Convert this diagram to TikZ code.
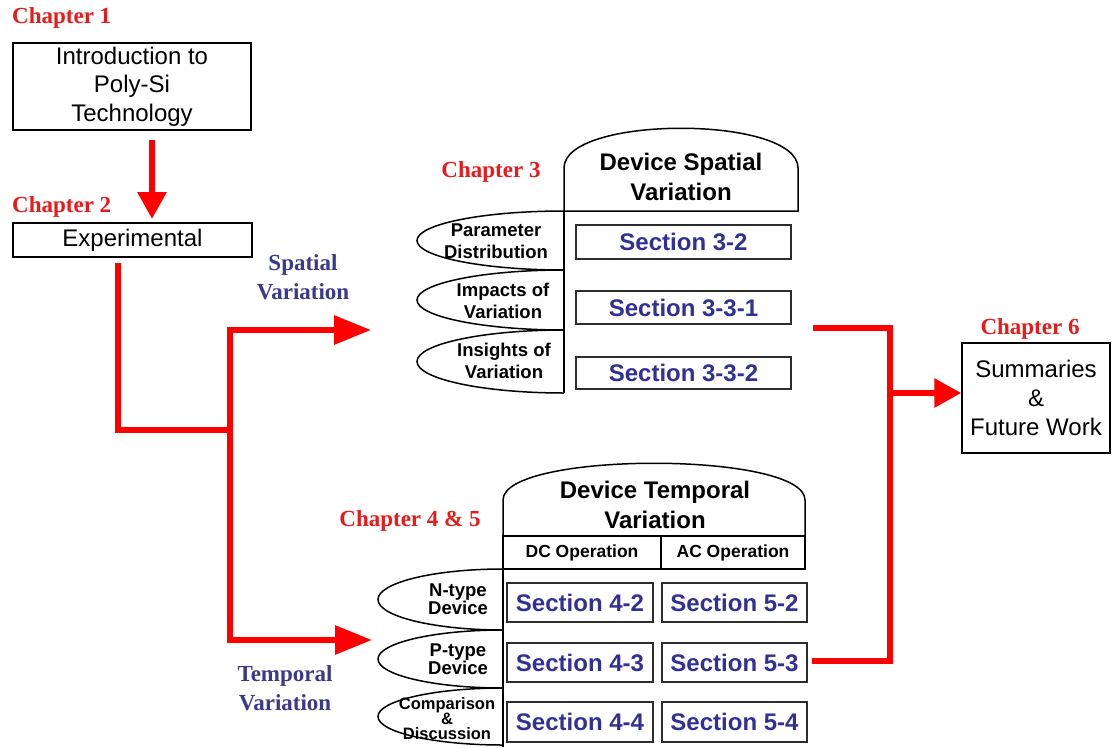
\documentclass[tikz,border=0pt]{standalone}
\usepackage{fontspec}
\setmainfont{Liberation Sans}
\newfontfamily\labelserif{Liberation Serif}
\usetikzlibrary{arrows.meta}
\definecolor{chapred}{RGB}{235,25,25}
\definecolor{flowred}{RGB}{255,0,0}
\definecolor{secblue}{RGB}{48,48,150}
\definecolor{varblue}{RGB}{58,58,140}
\definecolor{boxgray}{RGB}{45,45,45}

\begin{document}
\begin{tikzpicture}[x=1pt,y=-1pt,
  chap/.style={text=chapred, font=\labelserif\bfseries\fontsize{23}{23}\selectfont, inner sep=0pt},
  varlabel/.style={text=varblue, align=center, font=\labelserif\bfseries\fontsize{23}{29}\selectfont, inner sep=0pt},
  plainbox/.style={draw=black, line width=1.5pt, align=center, inner sep=0pt,
    font=\fontsize{24}{28.5}\selectfont},
  secbox/.style={draw=boxgray, line width=1.5pt, inner sep=0pt, text=secblue,
    font=\bfseries\fontsize{24}{24}\selectfont},
  outline/.style={draw=black, line width=1.5pt},
  headtext/.style={align=center, inner sep=0pt, font=\bfseries\fontsize{24}{30}\selectfont},
  tabtext/.style={align=center, inner sep=0pt, font=\bfseries\fontsize{18.5}{22}\selectfont},
  coltext/.style={inner sep=0pt, font=\bfseries\fontsize{17.5}{17.5}\selectfont},
  flow/.style={draw=flowred, line width=6pt},
  flowhead/.style={flow, -{Triangle[length=#1, width=28pt]}},
  flowhead/.default=30pt
]
\useasboundingbox (0,0) rectangle (1113,747);

% ---------- Chapters 1 and 2 ----------
\node[chap, anchor=west] (c1lab) at (12,18) {Chapter 1};
\node[plainbox, minimum width=238pt, minimum height=87pt] (intro) at (132,86.5)
  {Introduction to\\Poly-Si\\Technology};
\node[chap, anchor=west] (c2lab) at (12,207) {Chapter 2};
\node[plainbox, minimum width=239pt, minimum height=34pt] (exper) at (132.5,240) {Experimental};

\coordinate (introout) at (152,140);
\coordinate (experin)  at (152,219);
\draw[flowhead=27pt] (introout) -- (experin);

% ---------- branch labels ----------
\node[varlabel] (spvar) at (303,277) {Spatial\\Variation};
\node[varlabel] (tpvar) at (285,688) {Temporal\\Variation};

% ---------- Chapter 3 block ----------
\node[chap] (c3lab) at (491,172) {Chapter 3};
\draw[outline] (564,211) -- (564,168) .. controls (564,115) and (798,115) .. (798,168)
  -- (798,211) -- cycle;
\node[headtext] (sphead) at (681,177) {Device Spatial\\Variation};
\draw[outline] (564,211) -- (564,393);
\draw[outline] (564,211) arc[start angle=90, end angle=270, x radius=147pt, y radius=29.5pt];
\draw[outline] (564,270) arc[start angle=90, end angle=270, x radius=147pt, y radius=30pt];
\draw[outline] (564,330) arc[start angle=90, end angle=270, x radius=147pt, y radius=31.5pt];
\node[tabtext] (tparam)  at (496,241) {Parameter\\Distribution};
\node[tabtext] (timpact) at (503,301) {Impacts of\\Variation};
\node[tabtext] (tinsight) at (504,361) {Insights of\\Variation};
\node[secbox, minimum width=215pt, minimum height=34pt] (s32)  at (683.5,242) {Section 3-2};
\node[secbox, minimum width=215pt, minimum height=33pt] (s331) at (683.5,307.5) {Section 3-3-1};
\node[secbox, minimum width=215pt, minimum height=32pt] (s332) at (683.5,373) {Section 3-3-2};

% ---------- Chapter 4 & 5 block ----------
\node[chap] (c45lab) at (410,521) {Chapter 4 \& 5};
\draw[outline] (503,536) -- (503,500) .. controls (503,451) and (805,451) .. (805,500)
  -- (805,536) -- cycle;
\node[headtext] (tphead) at (655,505) {Device Temporal\\Variation};
\draw[outline] (503,536) rectangle (805,569);
\draw[outline] (661,536) -- (661,569);
\node[coltext] (dchead) at (582,553) {DC Operation};
\node[coltext] (achead) at (733,553) {AC Operation};
\draw[outline] (503,569) -- (503,747);
\draw[outline] (503,569) arc[start angle=90, end angle=270, x radius=125pt, y radius=30.5pt];
\draw[outline] (503,630) arc[start angle=90, end angle=270, x radius=125pt, y radius=29pt];
\draw[outline] (503,688) arc[start angle=90, end angle=270, x radius=125pt, y radius=28.5pt];
\node[tabtext, font=\bfseries\fontsize{18.5}{17}\selectfont] (tntype) at (458,599) {N-type\\Device};
\node[tabtext, font=\bfseries\fontsize{18.5}{17}\selectfont] (tptype) at (458,659) {P-type\\Device};
\node[tabtext, font=\bfseries\fontsize{16.5}{15}\selectfont] (tcomp) at (447,719) {Comparison\\\&\\Discussion};
\node[secbox, minimum width=146pt, minimum height=39pt] (s42) at (580,602.5) {Section 4-2};
\node[secbox, minimum width=146pt, minimum height=39pt] (s43) at (580,662.5) {Section 4-3};
\node[secbox, minimum width=146pt, minimum height=40pt] (s44) at (580,722) {Section 4-4};
\node[secbox, minimum width=145pt, minimum height=39pt] (s52) at (734.5,602.5) {Section 5-2};
\node[secbox, minimum width=145pt, minimum height=39pt] (s53) at (734.5,662.5) {Section 5-3};
\node[secbox, minimum width=145pt, minimum height=40pt] (s54) at (734.5,722) {Section 5-4};

% ---------- Chapter 6 ----------
\node[chap] (c6lab) at (1030,329) {Chapter 6};
\node[plainbox, minimum width=148pt, minimum height=110pt,
  font=\fontsize{24}{29}\selectfont] (summ) at (1036,398) {Summaries\\\&\\Future Work};

% ---------- flow from Chapter 2 to Chapters 3, 4 and 5 ----------
\coordinate (experout) at (118,263);
\coordinate (split)    at (118,430);
\coordinate (fork)     at (230,430);
\coordinate (forktop)  at (230,330);
\coordinate (forkbot)  at (230,640);
\coordinate (spin)     at (371,330);
\coordinate (tpin)     at (372,640);
\draw[flow, line join=miter] (experout) -- (split) -- (fork);
\draw[flow, line join=miter] (spin) ++(-37,0) -- (forktop) -- (forkbot) -- ++(105,0);
\draw[flowhead=37pt] (forktop) -- (spin);
\draw[flowhead=37pt] (forkbot) -- (tpin);

% ---------- flow from Chapters 3, 4 and 5 to Chapter 6 ----------
\coordinate (spout)  at (813,328);
\coordinate (tpout)  at (812,661);
\coordinate (jtop)   at (890,328);
\coordinate (jbot)   at (890,661);
\coordinate (jmid)   at (890,393);
\draw[flow, line join=miter] (spout) -- (jtop) -- (jbot) -- (tpout);
\draw[flowhead=27pt] (jmid) -- (jmid -| summ.west);
\end{tikzpicture}
\end{document}
